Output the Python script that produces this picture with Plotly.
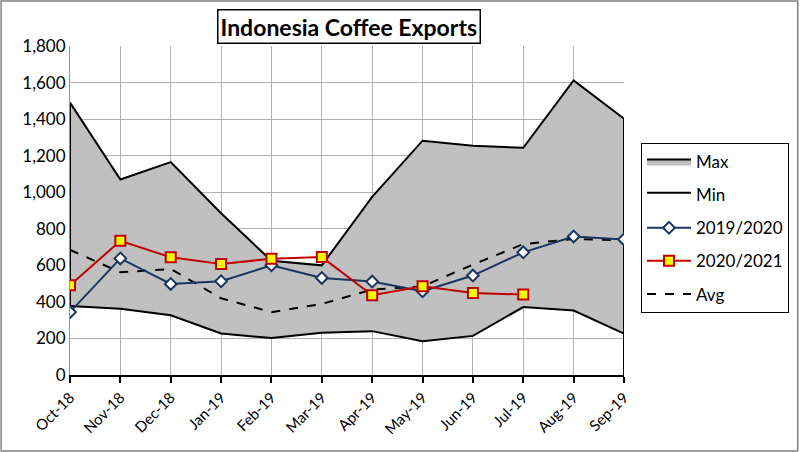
import plotly.graph_objects as go

months = ["Oct-18", "Nov-18", "Dec-18", "Jan-19", "Feb-19", "Mar-19",
          "Apr-19", "May-19", "Jun-19", "Jul-19", "Aug-19", "Sep-19"]
max_vals = [1490, 1070, 1165, 885, 625, 600, 975, 1282, 1254, 1243, 1612, 1402]
min_vals = [378, 362, 327, 227, 202, 231, 240, 185, 214, 372, 353, 227]
avg_vals = [685, 562, 580, 420, 344, 389, 467, 485, 604, 716, 744, 736]
s2019 = [344, 638, 498, 513, 600, 531, 511, 458, 544, 671, 758, 742]
s2020 = [491, 734, 644, 607, 636, 645, 436, 485, 449, 440]

FONT = "Lato"
W, H = 800, 452
ML, MR, MT, MB = 70, 175, 46, 77
PW, PH = W - ML - MR, H - MT - MB

fig = go.Figure()

# Min line (base of band)
fig.add_trace(go.Scatter(
    x=months, y=min_vals, name="Min", mode="lines",
    line=dict(color="black", width=2), showlegend=False))
# Max band fill down to Min
fig.add_trace(go.Scatter(
    x=months, y=max_vals, name="Max", mode="lines",
    line=dict(color="black", width=2),
    fill="tonexty", fillcolor="#C0C0C0", showlegend=False))
# edges of the area
fig.add_trace(go.Scatter(
    x=[months[0], months[0]], y=[min_vals[0], max_vals[0]], mode="lines",
    line=dict(color="black", width=2), showlegend=False, hoverinfo="skip"))
fig.add_trace(go.Scatter(
    x=[months[-1], months[-1]], y=[0, max_vals[-1]], mode="lines",
    line=dict(color="black", width=2), showlegend=False, hoverinfo="skip"))

# legend-only entries for the area series
fig.add_trace(go.Scatter(
    x=[None], y=[None], name="Max", mode="lines", fill="toself",
    fillcolor="#C0C0C0", line=dict(color="black", width=2),
    legendgroup="a", legendrank=1))
fig.add_trace(go.Scatter(
    x=[None], y=[None], name="Min", mode="lines", fill="toself",
    fillcolor="white", line=dict(color="black", width=2),
    legendgroup="b", legendrank=2))

fig.add_trace(go.Scatter(
    x=months, y=avg_vals, name="Avg", mode="lines",
    line=dict(color="black", width=2, dash="dash"),
    legendgroup="e", legendrank=5))
fig.add_trace(go.Scatter(
    x=months, y=s2019, name="2019/2020", mode="lines+markers",
    line=dict(color="#1A3560", width=2),
    marker=dict(symbol="diamond", size=9, color="white",
                line=dict(color="#1A3560", width=2)),
    legendgroup="c", legendrank=3))
fig.add_trace(go.Scatter(
    x=months[:len(s2020)], y=s2020, name="2020/2021", mode="lines+markers",
    line=dict(color="#C00000", width=2),
    marker=dict(symbol="square", size=10, color="#FFFF00",
                line=dict(color="#C00000", width=2)),
    legendgroup="d", legendrank=4))

fig.update_layout(
    width=W, height=H,
    margin=dict(l=ML, r=MR, t=MT, b=MB),
    paper_bgcolor="white", plot_bgcolor="white",
    font=dict(family=FONT, size=16, color="black"),
    showlegend=True,
    legend=dict(x=(641 - ML) / PW, y=(H - MB - 143) / PH,
                xanchor="left", yanchor="top",
                bordercolor="black", borderwidth=1,
                bgcolor="white", font=dict(size=17, family=FONT),
                traceorder="grouped", tracegroupgap=8,
                itemwidth=44),
    xaxis=dict(type="category", range=[0, len(months) - 1],
               showgrid=True, gridcolor="#B0B0B0", gridwidth=1,
               showline=True, linecolor="black", linewidth=2,
               ticks="outside", ticklen=6, tickcolor="black", tickwidth=2,
               tickangle=-45, tickfont=dict(size=15, family=FONT),
               zeroline=False, automargin=False),
    yaxis=dict(range=[0, 1800], dtick=200, tickformat=",",
               showgrid=True, gridcolor="#B0B0B0", gridwidth=1,
               showline=True, linecolor="#909090", linewidth=1,
               ticks="", tickfont=dict(size=17, family=FONT),
               zeroline=False, automargin=False),
    annotations=[dict(
        text="<b>Indonesia Coffee Exports</b>",
        xref="paper", yref="paper",
        x=(350 - ML) / PW, y=1 + (MT - 26) / PH,
        xanchor="center", yanchor="middle", showarrow=False,
        font=dict(size=23, family=FONT, color="black"),
        bordercolor="black", borderwidth=1.5, borderpad=2, bgcolor="white")],
    shapes=[dict(type="rect", xref="paper", yref="paper",
                 x0=-(ML - 1) / PW, x1=1 + (MR - 1) / PW,
                 y0=-(MB - 1) / PH, y1=1 + (MT - 1) / PH,
                 line=dict(color="#808080", width=1.5), layer="below")],
)

fig.write_html("out.html", config={"displayModeBar": False},
               post_script="document.body.style.margin='0';")
